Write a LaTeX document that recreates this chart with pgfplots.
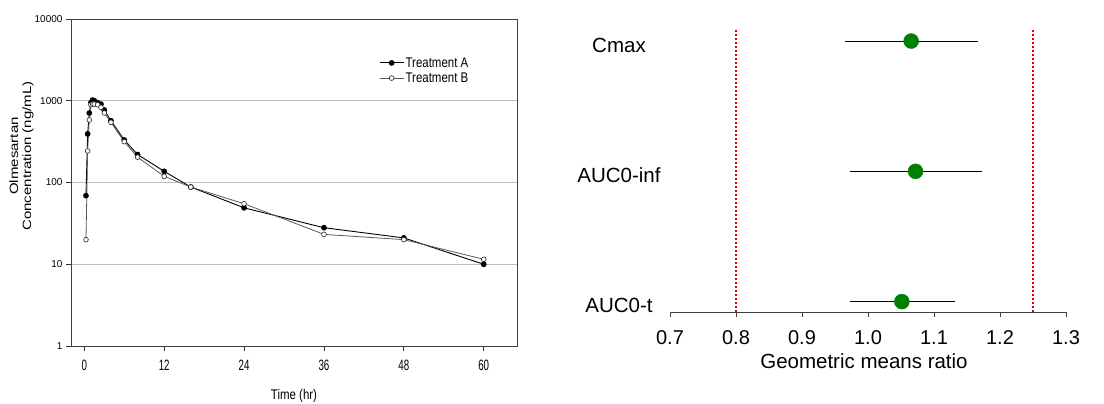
\documentclass[border=0pt]{standalone}
\usepackage{fontspec}
\setmainfont{Liberation Sans}
\newfontfamily\narrowf[FakeStretch=0.82]{Liberation Sans}
\newfontfamily\xnarrow[FakeStretch=0.65]{Liberation Sans}
\newfontfamily\widef[FakeStretch=1.25]{Liberation Sans}
\usepackage{pgfplots}
\pgfplotsset{compat=1.18}
\definecolor{dgreen}{RGB}{0,128,0}
\definecolor{dred}{RGB}{220,0,0}

\begin{document}
\begin{tikzpicture}
\path[use as bounding box] (0,0) rectangle (1104pt,-404pt);
\begin{axis}[
  at={(71pt,-346pt)}, anchor=south west, scale only axis,
  width=446pt, height=327pt,
  xmin=-2, xmax=65, ymode=log, ymin=1, ymax=10000,
  xtick={0,12,24,36,48,60},
  ytick={1,10,100,1000,10000}, yticklabels={1,10,100,1000,10000},
  yminorticks=false,
  ymajorgrids, major grid style={black!25, line width=0.8pt},
  tick align=outside, tick pos=left, major tick length=5pt,
  tick style={black!80, line width=0.7pt},
  axis line style={black!75, line width=0.8pt},
  /pgf/number format/assume math mode=true,
  xticklabel style={font=\xnarrow\fontsize{15}{17}\selectfont, yshift=-6pt},
  yticklabel style={font=\fontsize{10}{12}\selectfont},
  legend cell align=left,
  legend style={at={(rel axis cs:0.6906,0.8425)}, anchor=west, draw=none, fill=none,
    font=\narrowf\fontsize{14}{14}\selectfont, inner sep=0pt, row sep=1pt,
    nodes={inner sep=1.5pt}},
  legend image code/.code={
    \draw[#1, mark repeat=2, mark phase=2] plot coordinates {(0pt,0pt) (12pt,0pt) (24pt,0pt)};
  },
]
\addplot[black, line width=0.9pt, mark=*, mark size=2.4pt, mark options={fill=black, draw=black}]
coordinates {(0.25,69) (0.5,393) (0.75,708) (1,953) (1.25,1020) (1.5,1000) (2,945) (2.5,910) (3,770) (4,570) (6,331) (8,220) (12,137) (16,88) (24,49) (36,28) (48,21) (60,10)};
\addlegendentry{Treatment A}
\addplot[black!65, line width=0.8pt, mark=*, mark size=2.4pt, mark options={fill=white, draw=black!85, line width=0.6pt}]
coordinates {(0.25,20) (0.5,243) (0.75,582) (1,893) (1.25,910) (1.5,910) (2,893) (2.5,830) (3,708) (4,545) (6,316) (8,204) (12,119) (16,88) (24,55) (36,23.2) (48,20) (60,11.5)};
\addlegendentry{Treatment B}
\end{axis}
\node[rotate=90, align=center, font=\widef\fontsize{12}{13}\selectfont] at (21.5pt,-156pt) {Olmesartan\\Concentration (ng/mL)};
\node[font=\narrowf\fontsize{14}{16}\selectfont] at (294pt,-396pt) {Time (hr)};

\begin{axis}[
  at={(670pt,-312.3pt)}, anchor=south west, scale only axis,
  width=396pt, height=282.3pt,
  xmin=0.7, xmax=1.3, ymin=0.918, ymax=3.085,
  axis x line=bottom, axis y line=none,
  axis line style={-, black!75, line width=0.8pt},
  xtick={0.7,0.8,0.9,1.0,1.1,1.2,1.3},
  tick align=outside, major tick length=5pt,
  tick style={black!75, line width=0.8pt},
  xticklabel={\pgfmathprintnumber[fixed,fixed zerofill,precision=1,assume math mode=true]{\tick}},
  xticklabel style={font=\fontsize{20}{24}\selectfont, yshift=-10pt},
  clip=false,
]
\addplot[dred, line width=1.8pt, dash pattern=on 2pt off 2pt] coordinates {(0.8,0.918) (0.8,3.085)};
\addplot[dred, line width=1.8pt, dash pattern=on 2pt off 2pt] coordinates {(1.25,0.918) (1.25,3.085)};
\addplot[black, line width=0.9pt] coordinates {(0.965,3) (1.166,3)};
\addplot[black, line width=0.9pt] coordinates {(0.972,2) (1.173,2)};
\addplot[black, line width=0.9pt] coordinates {(0.972,1) (1.132,1)};
\addplot[only marks, mark=*, mark size=7.5pt, dgreen, mark options={fill=dgreen, draw=dgreen}]
coordinates {(1.0654,3) (1.072,2) (1.0513,1)};
\end{axis}
\node[font=\fontsize{20.5}{24}\selectfont] at (619pt,-45pt) {Cmax};
\node[font=\fontsize{20.5}{24}\selectfont] at (619pt,-175pt) {AUC0-inf};
\node[font=\fontsize{20.5}{24}\selectfont] at (619pt,-305pt) {AUC0-t};
\node[font=\fontsize{20.5}{24}\selectfont] at (864pt,-361pt) {Geometric means ratio};
\end{tikzpicture}
\end{document}
